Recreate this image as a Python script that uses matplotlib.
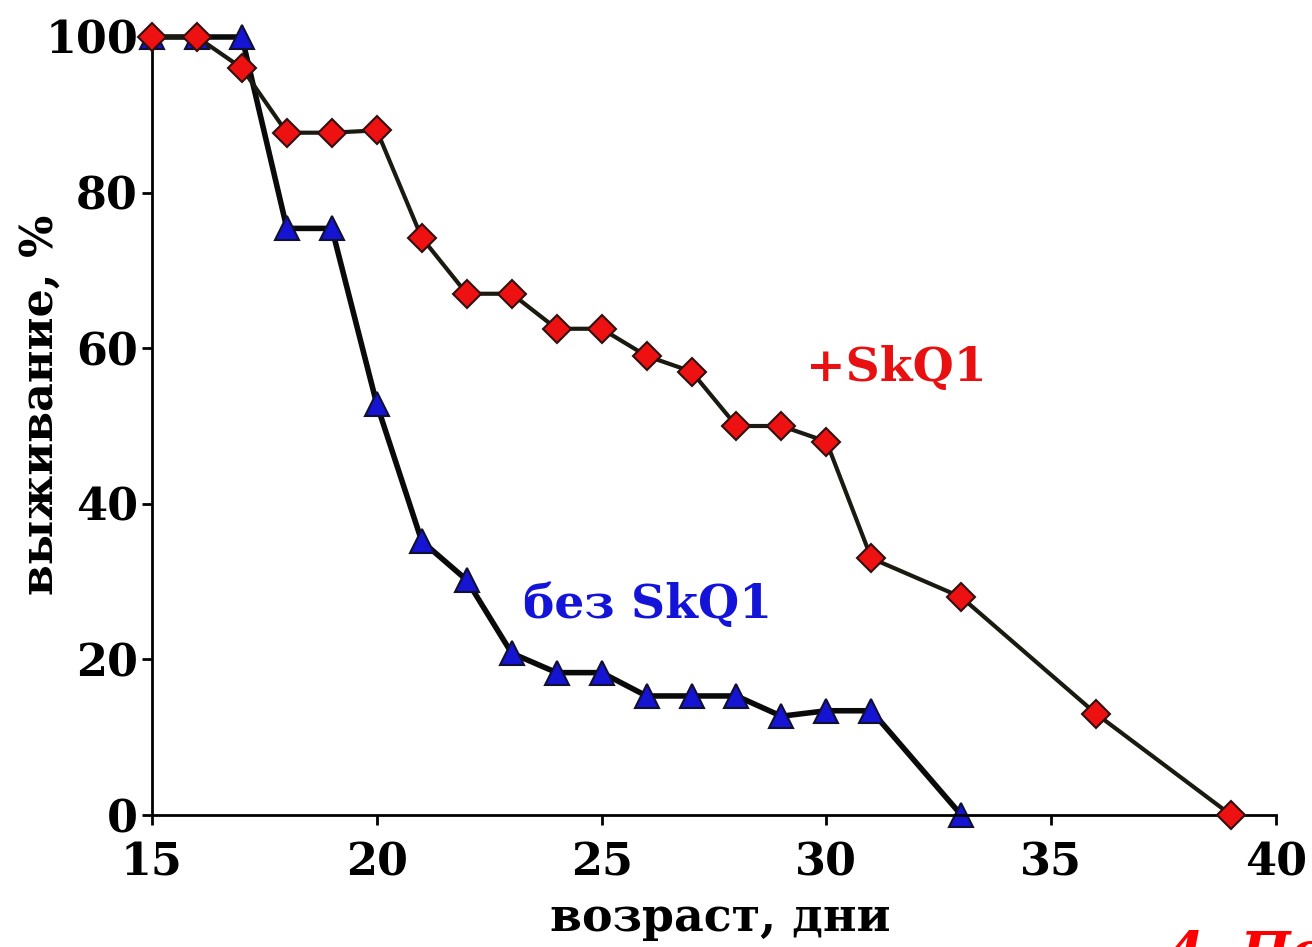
import matplotlib
matplotlib.use("Agg")
import matplotlib.pyplot as plt

# Data
days_skq1 = [15, 16, 17, 18, 19, 20, 21, 22, 23, 24, 25, 26, 27, 28, 29, 30, 31, 33, 36, 39]
surv_skq1 = [100, 100, 96, 87.7, 87.7, 88, 74.2, 67, 67, 62.5, 62.5, 59, 57, 50, 50, 48, 33, 28, 13, 0]

days_ctrl = [15, 16, 17, 18, 19, 20, 21, 22, 23, 24, 25, 26, 27, 28, 29, 30, 31, 33]
surv_ctrl = [100, 100, 100, 75.4, 75.4, 52.8, 35.2, 30.2, 20.8, 18.3, 18.3, 15.3, 15.3, 15.3, 12.7, 13.4, 13.4, 0]

x_ticks = [15, 20, 25, 30, 35, 40]
y_ticks = [0, 20, 40, 60, 80, 100]
label_skq1 = "+SkQ1"
label_ctrl = "без SkQ1"
x_label = "возраст, дни"
y_label = "выживание, %"

plt.rcParams['font.family'] = ['DejaVu Serif']
plt.rcParams['font.weight'] = 'bold'

fig = plt.figure(figsize=(13.12, 9.47), dpi=100)
ax = fig.add_axes([152/1312, 1-815/947, (1276-152)/1312, (815-37)/947])

ax.plot(days_ctrl, surv_ctrl, color='#0a0a0a', lw=4, marker='^', markersize=17,
        markerfacecolor='#1414d2', markeredgecolor='#101030', markeredgewidth=1.5, zorder=2, clip_on=False)
ax.plot(days_skq1, surv_skq1, color='#1a1a10', lw=3, marker='D', markersize=14,
        markerfacecolor='#ee1111', markeredgecolor='#301010', markeredgewidth=1.5, zorder=3, clip_on=False)

ax.set_xlim(15, 40)
ax.set_ylim(0, 100)
ax.set_xticks(x_ticks)
ax.set_yticks(y_ticks)
ax.tick_params(axis='both', labelsize=32, width=2, length=7, direction='out')
ax.tick_params(axis='x', pad=12)
ax.tick_params(axis='y', pad=3)
for lab in ax.get_xticklabels() + ax.get_yticklabels():
    lab.set_fontweight('bold')
for s in ['top', 'right']:
    ax.spines[s].set_visible(False)
for s in ['left', 'bottom']:
    ax.spines[s].set_linewidth(2)

fig.text(720/1312, 1-918/947, x_label, fontsize=33, fontweight='bold', ha='center', va='center')
fig.text(40/1312, 1-405/947, y_label, rotation=90, fontsize=32, fontweight='bold',
         ha='center', va='center')

ax.text(29.55, 57.5, label_skq1, color='#e81010', fontsize=34, fontweight='bold', ha='left', va='center')
ax.text(23.25, 27, label_ctrl, color='#1414d8', fontsize=34, fontweight='bold', ha='left', va='center')

fig.text(1167/1312, 1-929/947, "4. По", color='#ff0000', fontsize=38, fontweight='bold',
         style='italic', ha='left', va='top')

fig.savefig("out.png", dpi=100)
